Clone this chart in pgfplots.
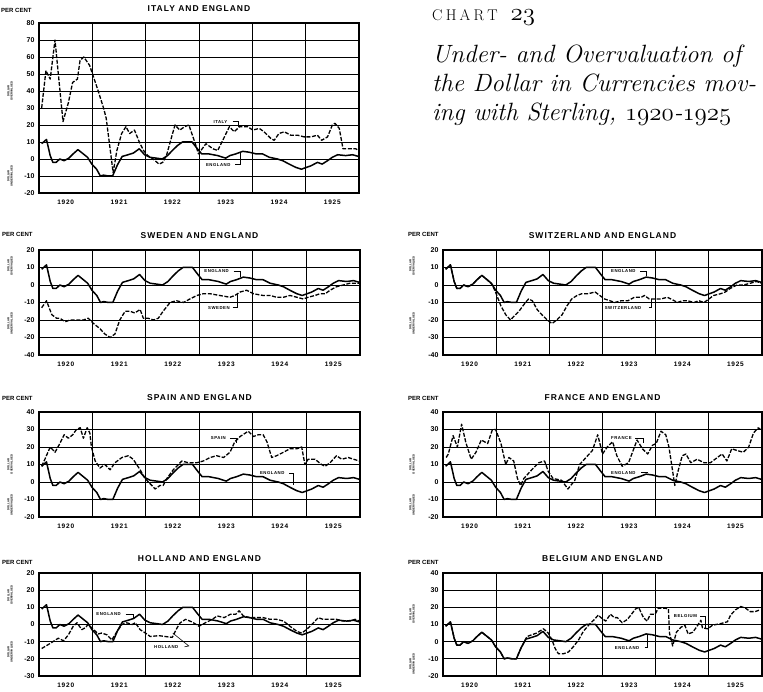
\documentclass[border=0pt]{standalone}
\usepackage{fontspec}
\usepackage{pgfplots}
\usepackage{pgfplotstable}
\pgfplotsset{compat=1.18}
\newfontfamily\labf{Liberation Sans}
\newfontfamily\labw{Liberation Sans}[LetterSpace=12]

\pgfplotstableread{
x y
1920.05 9
1920.14 11.5
1920.21 2
1920.26 -2
1920.32 -2
1920.39 0
1920.47 -1
1920.56 0.5
1920.64 3
1920.73 5.5
1920.83 3
1920.91 1
1920.99 -3
1921.08 -6
1921.15 -10
1921.21 -9.5
1921.30 -10
1921.38 -10
1921.47 -3.5
1921.56 1.5
1921.67 2.5
1921.77 3.5
1921.88 6
1921.98 2.5
1922.08 1
1922.20 0.5
1922.31 0
1922.41 2
1922.50 5
1922.60 8
1922.69 10
1922.87 10
1922.97 6
1923.05 3
1923.18 3
1923.35 2
1923.50 0.5
1923.58 2
1923.69 3
1923.82 4.5
1923.94 4
1924.07 3
1924.19 3
1924.32 1
1924.47 0
1924.57 -1
1924.69 -3
1924.82 -5
1924.92 -6
1925.01 -5
1925.10 -4
1925.22 -2
1925.31 -3
1925.41 -1
1925.50 1
1925.60 2.5
1925.75 2
1925.88 2.5
1925.99 1.5
}\tEng

\pgfplotstableread{
x y
1920.05 30
1920.13 52
1920.21 47
1920.30 70
1920.45 22
1920.55 33
1920.63 45
1920.72 47
1920.77 58
1920.84 60
1920.95 55
1921.11 40
1921.21 30
1921.26 24
1921.39 -8
1921.46 5
1921.55 15
1921.63 19
1921.70 15
1921.79 17
1921.88 10
1921.96 5
1922.04 2
1922.14 0
1922.25 -3
1922.32 -2
1922.39 2
1922.46 10
1922.55 20
1922.64 17
1922.73 19
1922.81 20
1922.92 10
1922.99 3
1923.13 9
1923.26 6
1923.35 5
1923.43 10
1923.57 19
1923.66 16
1923.76 19
1923.91 19
1924.01 17
1924.13 18
1924.22 16
1924.35 12
1924.41 11
1924.50 15
1924.60 16
1924.72 14
1924.85 14
1924.97 13
1925.10 13
1925.22 14
1925.30 11
1925.41 13
1925.50 20
1925.55 21
1925.63 18
1925.70 6
1925.81 6
1925.94 6
1925.99 5
}\tIta

\pgfplotstableread{
x y
1920.05 -13
1920.14 -9
1920.24 -17
1920.33 -19
1920.39 -19
1920.49 -21
1920.58 -20
1920.70 -20
1920.83 -20
1920.92 -19
1921.02 -22
1921.14 -25
1921.23 -28
1921.33 -30
1921.42 -28
1921.51 -20
1921.61 -15
1921.70 -15
1921.79 -16
1921.89 -14
1921.95 -19
1922.04 -19
1922.14 -20
1922.23 -19
1922.32 -15
1922.45 -10
1922.57 -9
1922.70 -10
1922.82 -8
1922.95 -6
1923.07 -5
1923.20 -5
1923.38 -6
1923.57 -7
1923.66 -6
1923.76 -4
1923.88 -3
1924.01 -5
1924.19 -6
1924.32 -6
1924.44 -7
1924.57 -7
1924.69 -6
1924.82 -7
1924.94 -8
1925.03 -7
1925.16 -6
1925.25 -5
1925.35 -5
1925.44 -3
1925.56 -1
1925.69 0
1925.81 1
1925.91 1
1925.99 1
}\tSwe

\pgfplotstableread{
x y
1920.05 9
1920.14 11.5
1920.21 2
1920.26 -2
1920.32 -2
1920.39 0
1920.47 -1
1920.56 0.5
1920.64 3
1920.73 5.5
1920.83 3
1920.93 0
1921.00 -5
1921.09 -12
1921.18 -17
1921.27 -20
1921.33 -18
1921.43 -15
1921.55 -10
1921.61 -8
1921.68 -9
1921.77 -14
1921.86 -17
1921.96 -20
1922.05 -22
1922.14 -20
1922.24 -17
1922.33 -12
1922.42 -8
1922.52 -6
1922.61 -5
1922.73 -5
1922.86 -4
1922.95 -6
1923.04 -8
1923.14 -9
1923.23 -10
1923.35 -9
1923.48 -9
1923.60 -7
1923.73 -7
1923.79 -6
1923.88 -8
1923.98 -8
1924.10 -8
1924.22 -7
1924.35 -9
1924.41 -10
1924.50 -9
1924.60 -9
1924.72 -10
1924.81 -9
1924.91 -10
1925.00 -8
1925.09 -6
1925.22 -5
1925.31 -4
1925.40 -2
1925.53 0
1925.65 0
1925.78 1
1925.90 2
1925.99 1
}\tSwi

\pgfplotstableread{
x y
1920.05 9
1920.11 13
1920.21 20
1920.30 17
1920.39 22
1920.47 27
1920.55 25
1920.63 27
1920.70 30
1920.77 31
1920.83 25
1920.90 31
1920.95 28
1920.98 20
1921.05 12
1921.14 8
1921.23 10
1921.33 7
1921.42 11
1921.55 14
1921.67 15
1921.76 13
1921.89 7
1921.98 2
1922.11 -2
1922.17 -4
1922.26 -2
1922.32 -2
1922.39 2
1922.51 7
1922.67 12
1922.79 11
1922.95 11
1923.07 12
1923.20 14
1923.32 15
1923.45 14
1923.57 17
1923.66 23
1923.76 26
1923.91 29
1924.01 26
1924.10 27
1924.19 27
1924.26 23
1924.35 14
1924.44 15
1924.57 17
1924.69 19
1924.82 19
1924.91 20
1924.97 10
1925.03 13
1925.16 13
1925.28 10
1925.35 9
1925.44 11
1925.56 15
1925.66 13
1925.78 14
1925.88 13
1925.99 12
}\tSpa

\pgfplotstableread{
x y
1920.06 14
1920.10 16
1920.19 26.5
1920.27 20
1920.35 33
1920.43 22.5
1920.53 13
1920.62 17
1920.72 24
1920.84 22
1920.93 30
1920.99 30
1921.09 22
1921.18 10
1921.24 14
1921.33 12
1921.40 2
1921.46 -2
1921.52 2
1921.67 7
1921.80 11
1921.91 12
1921.98 6
1922.07 2
1922.23 1
1922.35 -4
1922.48 1
1922.57 10
1922.69 14
1922.81 18
1922.91 27
1923.00 16
1923.09 20
1923.19 23
1923.27 15
1923.37 9
1923.49 11
1923.65 24
1923.75 19
1923.85 16
1923.94 21
1924.01 22
1924.10 29
1924.19 27
1924.25 20
1924.32 6
1924.36 -2
1924.41 5
1924.50 15
1924.57 16
1924.66 11
1924.78 13
1924.91 11
1925.03 11
1925.16 14
1925.25 16
1925.34 12
1925.43 19
1925.53 18
1925.65 17
1925.75 20
1925.84 28
1925.93 31
1925.97 30
}\tFra

\pgfplotstableread{
x y
1920.05 -14
1920.21 -11
1920.36 -8
1920.46 -9.5
1920.55 -6
1920.64 -1
1920.71 1
1920.80 -3
1920.86 -2
1920.92 0
1921.02 -3
1921.11 -5.5
1921.17 -5
1921.27 -6
1921.36 -9
1921.46 -4
1921.55 0
1921.64 1
1921.74 0
1921.80 1
1921.89 -3
1921.99 -5
1922.08 -7
1922.24 -6.5
1922.36 -7
1922.49 -7.5
1922.58 -2
1922.64 1
1922.74 3
1922.86 1.5
1922.99 -1
1923.11 1
1923.24 3
1923.33 5
1923.46 4
1923.58 6
1923.68 6
1923.74 8
1923.82 5
1923.94 4
1924.07 4
1924.19 4
1924.32 3
1924.44 3
1924.57 2
1924.69 -1
1924.82 -4
1924.91 -5
1925.00 -3
1925.13 1
1925.22 4
1925.31 3
1925.44 3
1925.56 3
1925.69 2
1925.81 2
1925.91 3
1925.99 2
}\tHol

\pgfplotstableread{
x y
1920.05 9
1920.14 11.5
1920.21 2
1920.26 -2
1920.32 -2
1920.39 0
1920.47 -1
1920.56 0.5
1920.64 3
1920.73 5.5
1920.83 3
1920.91 1
1920.99 -3
1921.08 -6
1921.15 -10
1921.21 -9.5
1921.30 -10
1921.38 -10
1921.47 -3.5
1921.58 3
1921.67 4
1921.76 5
1921.89 7.5
1921.98 5
1922.05 1
1922.11 -4
1922.17 -7
1922.27 -7
1922.36 -6
1922.45 -3
1922.55 1
1922.64 6
1922.75 10
1922.85 13
1922.92 15.5
1922.97 14
1923.06 12
1923.15 16
1923.22 14
1923.28 14
1923.37 11
1923.47 13
1923.62 19
1923.68 20
1923.77 14
1923.84 12
1923.90 16
1923.99 16
1924.05 19.5
1924.18 19.5
1924.24 19
1924.26 5
1924.32 -2.5
1924.39 5.5
1924.48 8.5
1924.55 9.5
1924.61 4.5
1924.70 5.5
1924.79 9.5
1924.85 12.5
1924.88 8
1924.98 7.5
1925.07 9.6
1925.22 10.5
1925.35 11.6
1925.41 15.5
1925.50 18.5
1925.60 20.5
1925.69 19.5
1925.78 17.5
1925.87 17.5
1925.96 18.5
}\tBel

\pgfplotsset{
  panel/.style={scale only axis, anchor=south west, clip=false,
    xmin=1920, xmax=1926,
    axis line style={line width=1.1pt},
    xtick={1920.5,1921.5,1922.5,1923.5,1924.5,1925.5},
    xticklabels={1920,1921,1922,1923,1924,1925},
    minor xtick={1921,1922,1923,1924,1925},
    xminorgrids=true, ymajorgrids=true,
    major tick length=0pt, minor tick length=0pt,
    major grid style={line width=0.9pt,black},
    minor grid style={line width=1pt,black},
    yticklabel style={font=\labf\bfseries\fontsize{7}{7}\selectfont, xshift=-1pt},
    xticklabel style={font=\labw\bfseries\fontsize{6.5}{6.5}\selectfont, yshift=-3pt},
    title style={font=\labw\bfseries\fontsize{8.5}{8.5}\selectfont, at={(0.5,1)}, anchor=base, yshift=5pt},
  },
  eng/.style={black, line width=1.5pt, line join=round, no marks},
  oth/.style={black, line width=1.3pt, dash pattern=on 4pt off 1.6pt, line join=round, no marks},
}
\tikzset{
  lbl/.style={font=\labw\bfseries\fontsize{4.3}{5}\selectfont, inner sep=0.5pt, anchor=west},
  side/.style={font=\labf\bfseries\fontsize{2.8}{3.2}\selectfont, rotate=90, align=center, inner sep=0pt},
  pc/.style={font=\labf\bfseries\fontsize{6}{6}\selectfont, anchor=base west, inner sep=0pt},
  ldr/.style={line width=0.6pt, black},
}
\newcommand{\sk}{\kern3.2pt}

\begin{document}
\begin{tikzpicture}[x=1pt,y=1pt]
\path[use as bounding box] (0,0) rectangle (763,692);

% Chart title
\node[anchor=base west, inner sep=0pt, font=\fontsize{15.5}{15.5}\selectfont] at (432,671) {C\sk H\sk A\sk R\sk T\kern13pt{\fontsize{24}{24}\selectfont$\mathnormal{2}\mathnormal{3}$}};
\node[anchor=base west, inner sep=0pt, font=\fontsize{25}{25}\selectfont\itshape] at (432,629) {Under- and Overvaluation of};
\node[anchor=base west, inner sep=0pt, font=\fontsize{25}{25}\selectfont\itshape] at (432,600) {the Dollar in Currencies mov-};
\node[anchor=base west, inner sep=0pt, font=\fontsize{25}{25}\selectfont\itshape] at (432,571) {ing with Sterling, $\mathnormal{1920}$-$\mathnormal{1925}$};

% ---------------- Italy
\begin{axis}[panel, at={(39pt,499pt)}, width=320pt, height=170pt,
  ymin=-20, ymax=80, ytick={-20,-10,0,10,20,30,40,50,60,70,80},
  yticklabels={-20,-10,0,10,20,30,40,50,60,70,80},
  title={ITALY AND ENGLAND}]
\addplot[oth] table {\tIta};
\addplot[eng] table {\tEng};
\node[lbl] at (axis cs:1923.26,22) {ITALY};
\draw[ldr] (axis cs:1923.63,22) -- (axis cs:1923.73,22) -- (axis cs:1923.73,19);
\node[lbl] at (axis cs:1923.12,-3.4) {ENGLAND};
\draw[ldr] (axis cs:1923.68,-3.4) -- (axis cs:1923.78,-3.4) -- (axis cs:1923.78,4);
\node[pc] at ([xshift=-38pt,yshift=10pt]rel axis cs:0,1) {PER CENT};
\node[side] at ([xshift=-29pt]axis cs:1920,40) {DOLLAR\\OVERVALUED};
\node[side] at ([xshift=-29pt]axis cs:1920,-10) {DOLLAR\\UNDERVALUED};
\end{axis}

% ---------------- Sweden
\begin{axis}[panel, at={(39pt,337pt)}, width=321pt, height=105pt,
  ymin=-40, ymax=20, ytick={-40,-30,-20,-10,0,10,20},
  yticklabels={-40,-20,-20,-10,0,10,20},
  title={SWEDEN AND ENGLAND}]
\addplot[oth] table {\tSwe};
\addplot[eng] table {\tEng};
\node[lbl] at (axis cs:1923.08,8) {ENGLAND};
\draw[ldr] (axis cs:1923.64,8) -- (axis cs:1923.76,8) -- (axis cs:1923.76,4.5);
\node[lbl] at (axis cs:1923.15,-13) {SWEDEN};
\draw[ldr] (axis cs:1923.62,-13) -- (axis cs:1923.71,-13) -- (axis cs:1923.71,-5);
\node[pc] at ([xshift=-37pt,yshift=13pt]rel axis cs:0,1) {PER CENT};
\node[side] at ([xshift=-29pt]axis cs:1920,11) {DOLLAR\\OVERVALUED};
\node[side] at ([xshift=-29pt]axis cs:1920,-22) {DOLLAR\\UNDERVALUED};
\end{axis}

% ---------------- Switzerland
\begin{axis}[panel, at={(443pt,337pt)}, width=319pt, height=105pt,
  ymin=-40, ymax=20, ytick={-40,-30,-20,-10,0,10,20},
  yticklabels={-40,-30,-20,-10,0,10,20},
  title={SWITZERLAND AND ENGLAND}]
\addplot[oth] table {\tSwi};
\addplot[eng] table {\tEng};
\node[lbl] at (axis cs:1923.15,8) {ENGLAND};
\draw[ldr] (axis cs:1923.71,8) -- (axis cs:1923.82,8) -- (axis cs:1923.82,5);
\node[lbl] at (axis cs:1923.03,-13) {SWITZERLAND};
\draw[ldr] (axis cs:1923.87,-13) -- (axis cs:1923.92,-13) -- (axis cs:1923.92,-8);
\node[pc] at ([xshift=-35pt,yshift=13pt]rel axis cs:0,1) {PER CENT};
\node[side] at ([xshift=-31pt]axis cs:1920,11) {DOLLAR\\OVERVALUED};
\node[side] at ([xshift=-31pt]axis cs:1920,-22) {DOLLAR\\UNDERVALUED};
\end{axis}

% ---------------- Spain
\begin{axis}[panel, at={(39pt,175pt)}, width=321pt, height=105pt,
  ymin=-20, ymax=40, ytick={-20,-10,0,10,20,30,40},
  yticklabels={-20,-10,0,10,20,30,40},
  title={SPAIN AND ENGLAND}]
\addplot[oth] table {\tSpa};
\addplot[eng] table {\tEng};
\node[lbl] at (axis cs:1923.20,25) {SPAIN};
\draw[ldr] (axis cs:1923.57,25) -- (axis cs:1923.69,25) -- (axis cs:1923.69,22);
\node[lbl] at (axis cs:1924.12,5.2) {ENGLAND};
\draw[ldr] (axis cs:1924.68,5.2) -- (axis cs:1924.75,5.2) -- (axis cs:1924.75,-2);
\node[pc] at ([xshift=-37pt,yshift=11pt]rel axis cs:0,1) {PER CENT};
\node[side] at ([xshift=-29pt]axis cs:1920,10) {DOLLAR\\OVERVALUED};
\node[side] at ([xshift=-29pt]axis cs:1920,-13) {DOLLAR\\UNDERVALUED};
\end{axis}

% ---------------- France
\begin{axis}[panel, at={(443pt,175pt)}, width=319pt, height=105pt,
  ymin=-20, ymax=40, ytick={-20,-10,0,10,20,30,40},
  yticklabels={-20,-10,0,10,20,30,40},
  title={FRANCE AND ENGLAND}]
\addplot[oth] table {\tFra};
\addplot[eng] table {\tEng};
\node[lbl] at (axis cs:1923.15,25) {FRANCE};
\draw[ldr] (axis cs:1923.62,25) -- (axis cs:1923.76,25) -- (axis cs:1923.76,22);
\node[lbl] at (axis cs:1923.15,5.4) {ENGLAND};
\draw[ldr] (axis cs:1923.72,5.4) -- (axis cs:1923.85,5.4);
\node[pc] at ([xshift=-35pt,yshift=11pt]rel axis cs:0,1) {PER CENT};
\node[side] at ([xshift=-31pt]axis cs:1920,10) {DOLLAR\\OVERVALUED};
\node[side] at ([xshift=-31pt]axis cs:1920,-13) {DOLLAR\\UNDERVALUED};
\end{axis}

% ---------------- Holland
\begin{axis}[panel, at={(39pt,16pt)}, width=321pt, height=103pt,
  ymin=-30, ymax=30, ytick={-30,-20,-10,0,10,20,30},
  yticklabels={-30,-20,-10,0,10,20,20},
  title={HOLLAND AND ENGLAND}]
\addplot[oth] table {\tHol};
\addplot[eng] table {\tEng};
\node[lbl] at (axis cs:1921.06,6) {ENGLAND};
\draw[ldr] (axis cs:1921.62,6) -- (axis cs:1921.76,6) -- (axis cs:1921.76,3.5);
\node[lbl] at (axis cs:1922.14,-13) {HOLLAND};
\draw[ldr] (axis cs:1922.72,-13) -- (axis cs:1922.80,-12.5) -- (axis cs:1922.50,-5);
\node[pc] at ([xshift=-37pt,yshift=8pt]rel axis cs:0,1) {PER CENT};
\node[side] at ([xshift=-29pt]axis cs:1920,17) {DOLLAR\\OVERVALUED};
\node[side] at ([xshift=-29pt]axis cs:1920,-16) {DOLLAR\\UNDERVALUED};
\end{axis}

% ---------------- Belgium
\begin{axis}[panel, at={(443pt,16pt)}, width=319pt, height=103pt,
  ymin=-20, ymax=40, ytick={-20,-10,0,10,20,30,40},
  yticklabels={-20,-10,0,10,20,30,40},
  title={BELGIUM AND ENGLAND}]
\addplot[oth] table {\tBel};
\addplot[eng] table {\tEng};
\node[lbl] at (axis cs:1924.33,15) {BELGIUM};
\draw[ldr] (axis cs:1924.84,15) -- (axis cs:1924.94,15) -- (axis cs:1924.94,8);
\node[lbl] at (axis cs:1923.22,-3.5) {ENGLAND};
\draw[ldr] (axis cs:1923.79,-3.5) -- (axis cs:1923.85,-3.5) -- (axis cs:1923.85,4);
\node[pc] at ([xshift=-35pt,yshift=8pt]rel axis cs:0,1) {PER CENT};
\node[side] at ([xshift=-31pt]axis cs:1920,16) {DOLLAR\\OVERVALUED};
\node[side] at ([xshift=-31pt]axis cs:1920,-13) {DOLLAR\\UNDERVALUED};
\end{axis}
\end{tikzpicture}
\end{document}
